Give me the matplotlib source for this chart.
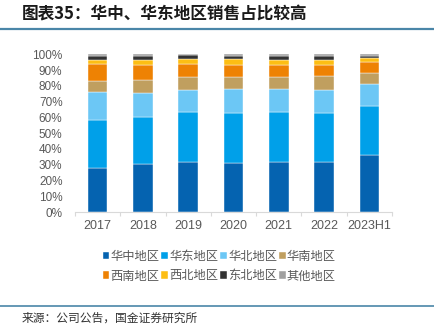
import numpy as np
import matplotlib
matplotlib.use('Agg')
import matplotlib.pyplot as plt
from matplotlib.ticker import PercentFormatter, FixedLocator
from matplotlib.lines import Line2D

plt.rcParams['font.family'] = ['Liberation Sans', 'Noto Sans CJK SC', 'DejaVu Sans']

# 年份与地区
years = ['2017', '2018', '2019', '2020', '2021', '2022', '2023H1']
regions = ['华中地区', '华东地区', '华北地区', '华南地区', '西南地区', '西北地区', '东北地区', '其他地区']

# 各地区销售占比（%）
huazhong = [27.6, 30.5, 31.6, 30.9, 32.0, 32.0, 36.0]
huadong  = [30.7, 29.7, 31.9, 31.6, 31.5, 30.5, 31.0]
huabei   = [17.9, 15.4, 14.0, 15.5, 14.5, 15.0, 13.9]
huanan   = [6.8, 8.3, 7.9, 7.4, 7.8, 8.9, 7.2]
xinan    = [10.6, 9.3, 8.2, 7.8, 7.2, 6.8, 7.0]
xibei    = [2.8, 3.2, 3.4, 3.6, 3.4, 3.4, 2.6]
dongbei  = [2.7, 2.6, 2.5, 2.3, 2.7, 2.5, 1.4]
qita     = [0.9, 1.0, 0.5, 0.9, 0.9, 0.9, 0.9]

colors = ['#0563B0', '#00A0E9', '#6CC7F5', '#C09F5F',
          '#EE8203', '#FDBE14', '#333333', '#A0A0A0']

series = [huazhong, huadong, huabei, huanan, xinan, xibei, dongbei, qita]

fig = plt.figure(figsize=(4.34, 3.31), dpi=100)
ax = fig.add_axes([0.1728, 0.3595, 0.7304, 0.4764])

x = np.arange(len(years))
bottom = np.zeros(len(years))
bars = []
for name, vals, col in zip(regions, series, colors):
    v = np.array(vals) / 100
    b = ax.bar(x, v, 0.43, bottom=bottom, color=col, label=name,
               edgecolor='white', linewidth=0.3)
    bars.append(b)
    bottom += v

ax.set_xlim(-0.5, len(years) - 0.5)
ax.set_ylim(0, 1.0)
ax.yaxis.set_major_locator(FixedLocator(np.arange(0, 1.01, 0.1)))
ax.yaxis.set_major_formatter(PercentFormatter(1.0, decimals=0))
ax.set_xticks(x)
ax.set_xticklabels(years)
ax.set_xticks(np.arange(-0.5, len(years), 1), minor=True)
ax.tick_params(axis='x', which='major', length=0, pad=6, labelsize=9, labelcolor='#595959')
ax.tick_params(axis='x', which='minor', length=3, color='#D9D9D9', width=0.8)
ax.tick_params(axis='y', length=0, pad=9, labelsize=8.5, labelcolor='#595959')

for s in ['top', 'right', 'left']:
    ax.spines[s].set_visible(False)
ax.spines['bottom'].set_color('#D9D9D9')
ax.spines['bottom'].set_linewidth(0.8)

# 图例按行排列：列优先填充，所以重新排序
order = [0, 4, 1, 5, 2, 6, 3, 7]
leg = fig.legend([bars[i] for i in order], [regions[i] for i in order],
                 loc='center', bbox_to_anchor=(0.505, 0.196), ncol=4, frameon=False,
                 prop={'family': ['Noto Sans CJK SC'], 'size': 8.8},
                 handlelength=0.55, handleheight=0.55, handletextpad=0.1,
                 columnspacing=0.15, labelspacing=0.55)
for t in leg.get_texts():
    t.set_color('#595959')

# 标题与来源
fig.text(0.05, 0.955, '图表35：华中、华东地区销售占比较高', fontsize=12, fontweight='bold',
         family=['Noto Sans CJK SC'], color='#1a1a1a', va='center', ha='left')
fig.add_artist(Line2D([0, 1], [0.911, 0.911], color='#4A86A8', linewidth=1.6))
fig.add_artist(Line2D([0, 1], [0.077, 0.077], color='#4A86A8', linewidth=1.2))
fig.text(0.05, 0.04, '来源：公司公告，国金证券研究所', fontsize=8.5,
         family=['Noto Sans CJK SC'], color='#333333', va='center', ha='left')

fig.savefig('out.png', dpi=100)
